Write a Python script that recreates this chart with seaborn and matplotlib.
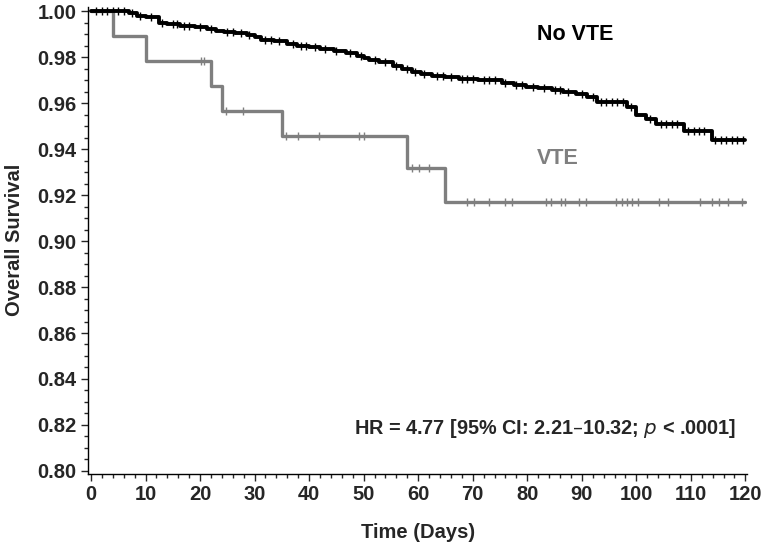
import numpy as np
import pandas as pd
import matplotlib
matplotlib.use("Agg")
import matplotlib.pyplot as plt
from matplotlib.ticker import MultipleLocator
import seaborn as sns

sns.set_style("ticks")
plt.rcParams['font.family'] = ['Liberation Sans', 'DejaVu Sans']

# Kaplan-Meier steps
# No VTE group (black)
nv_times = [0, 7, 8.5, 10, 12.5, 14, 16.4, 19, 21.3, 23, 24.4, 26.5, 28.7, 30, 31.1,
            33.5, 36, 37.8, 40, 42, 44.5, 46.8, 48.7, 50, 51, 52.9, 55.3, 57, 58.9,
            60.5, 62.6, 65, 67.5, 71, 75.4, 77.5, 79.7, 82, 84.5, 86.5, 88.9, 91,
            92.7, 98.2, 100, 101.7, 103.7, 108.7, 113.8]
nv_surv = [1.000, 0.999, 0.998, 0.9975, 0.9950, 0.9944, 0.9936, 0.9931, 0.9922, 0.9915,
           0.9909, 0.9903, 0.9896, 0.9886, 0.9876, 0.9868, 0.9859, 0.9848, 0.9842,
           0.9835, 0.9828, 0.9818, 0.9806, 0.9795, 0.9788, 0.9780, 0.9760, 0.9748,
           0.9737, 0.9728, 0.9718, 0.9712, 0.9705, 0.9702, 0.9688, 0.9680, 0.9670,
           0.9665, 0.9657, 0.9648, 0.9638, 0.9625, 0.9605, 0.9585, 0.9550, 0.9531,
           0.9510, 0.9480, 0.9440]
nv_censor = [1, 2, 3, 4, 5, 6, 7.5, 9, 11, 13, 15, 15.8, 17, 18, 20, 22, 25, 26, 27.5,
             29, 32, 33, 34.5, 37, 38.5, 39.5, 41, 43, 45, 47.5, 49.5, 52, 54, 56, 58,
             59.5, 61, 63.5, 64.5, 66, 68, 69, 70, 72, 73, 74, 76, 78, 79, 81, 83, 85,
             86, 87.5, 90, 92, 93.5, 94.5, 95.5, 96.5, 97.5, 99, 102.5, 104.5, 105.5,
             106.5, 107.5, 109.5, 110.5, 111.5, 112.5, 114.5, 115.5, 116.5, 117.5,
             118.5, 119.5]

# VTE group (grey)
vte_times = [0, 4, 10, 22, 24, 35, 58, 65]
vte_surv = [1.000, 0.9891, 0.9783, 0.9674, 0.9565, 0.9457, 0.9318, 0.9170]
vte_censor = [20.2, 20.8, 24.8, 27.9, 35.8, 37.9, 41.9, 49.2, 50.1, 58.9, 60.1, 61.9,
              69.0, 70.2, 73.0, 76.0, 77.2, 83.4, 84.3, 86.1, 87.0, 89.4, 90.7, 96.2,
              97.4, 98.3, 99.2, 100.4, 104.1, 105.9, 111.7, 113.8, 115.1, 116.9, 119.3]

end_day = 120
colors = {"No VTE": "#000000", "VTE": "#7f7f7f"}
widths = {"No VTE": 2.8, "VTE": 2.4}


def step_value(times, surv, t):
    idx = np.searchsorted(times, t, side="right") - 1
    return surv[idx]


rows = []
marks = []
for g, t, s, c in [("No VTE", nv_times, nv_surv, nv_censor),
                   ("VTE", vte_times, vte_surv, vte_censor)]:
    for ti, si in zip(t + [end_day], s + [s[-1]]):
        rows.append({"group": g, "day": ti, "surv": si})
    for ci in c:
        marks.append({"group": g, "day": ci, "surv": step_value(t, s, ci)})
curves = pd.DataFrame(rows)
censor = pd.DataFrame(marks)

fig = plt.figure(figsize=(7.65, 5.46), dpi=100)
ax = fig.add_axes([0.115, 0.132, 0.862, 0.856])

# grey first so black sits on top
for g in ["VTE", "No VTE"]:
    sub = curves[curves["group"] == g]
    sns.lineplot(data=sub, x="day", y="surv", color=colors[g], drawstyle="steps-post",
                 estimator=None, sort=False, linewidth=widths[g], ax=ax, legend=False)
    csub = censor[censor["group"] == g]
    sns.scatterplot(data=csub, x="day", y="surv", color=colors[g], marker="|", s=40,
                    linewidth=1.0, ax=ax, legend=False)

ax.set_xlim(-0.55, 120.37)
ax.set_ylim(0.7987, 1.002)
ax.xaxis.set_major_locator(MultipleLocator(10))
ax.xaxis.set_minor_locator(MultipleLocator(2))
ax.yaxis.set_major_locator(MultipleLocator(0.02))
ax.yaxis.set_minor_locator(MultipleLocator(0.005))
ax.yaxis.set_major_formatter(matplotlib.ticker.FormatStrFormatter("%.2f"))
ax.tick_params(which="major", direction="out", length=5, width=1, labelsize=14.5, pad=3)
ax.tick_params(which="minor", direction="out", length=3, width=1)
for lab in ax.get_xticklabels() + ax.get_yticklabels():
    lab.set_fontweight("bold")
sns.despine(ax=ax)
for sp in ["left", "bottom"]:
    ax.spines[sp].set_linewidth(1.0)
    ax.spines[sp].set_color("black")

ax.set_xlabel("Time (Days)", fontsize=14.5, fontweight="bold", labelpad=14)
ax.set_ylabel("Overall Survival", fontsize=14.5, fontweight="bold", labelpad=10)

fig.text(575 / 765, 1 - 35 / 546, "No VTE", fontsize=15.5, fontweight="bold",
         ha="center", va="center", color="black")
fig.text(558 / 765, 1 - 158 / 546, "VTE", fontsize=15.5, fontweight="bold",
         ha="center", va="center", color="#7f7f7f")

fig.text(736 / 765, 1 - 428 / 546,
         "HR = 4.77 [95% CI: 2.21\u201310.32; $\\bf{\\it{p}}$ < .0001]",
         fontsize=14.3, fontweight="bold", ha="right", va="center")

fig.savefig("out.png", dpi=100)
